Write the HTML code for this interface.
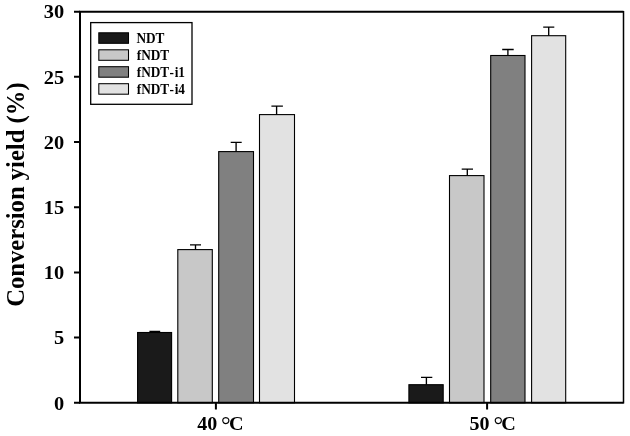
<!DOCTYPE html>
<html><head><meta charset="utf-8">
<style>
html,body{margin:0;padding:0;background:#fff;}
body{width:630px;height:436px;overflow:hidden;}
svg{display:block;will-change:transform;}
text{font-family:"Liberation Serif",serif;font-weight:bold;fill:#000;}
</style></head>
<body>
<svg width="630" height="436" viewBox="0 0 630 436">
<rect x="0" y="0" width="630" height="436" fill="#fff"/>
<!-- bars group 1 -->
<g stroke="#000" stroke-width="1.1">
<rect x="137.6" y="332.5" width="34" height="70.3" fill="#1a1a1a"/>
<rect x="177.8" y="249.6" width="34.5" height="153.2" fill="#c8c8c8"/>
<rect x="218.7" y="151.6" width="34.8" height="251.2" fill="#808080"/>
<rect x="259.5" y="114.6" width="35" height="288.2" fill="#e2e2e2"/>
<rect x="408.9" y="384.7" width="34.3" height="18.1" fill="#1a1a1a"/>
<rect x="449.5" y="175.6" width="34.5" height="227.2" fill="#c8c8c8"/>
<rect x="490.7" y="55.5" width="34.3" height="347.3" fill="#808080"/>
<rect x="531.6" y="35.7" width="34.1" height="367.1" fill="#e2e2e2"/>
</g>
<!-- error bars -->
<g stroke="#000" stroke-width="1.35" fill="none">
<path d="M154.6 332.5V331.5M149.4 331.5H160.2"/>
<path d="M195.5 249.6V244.85M190 244.85H201"/>
<path d="M236.1 151.6V142.4M230.7 142.4H241.7"/>
<path d="M276.6 114.6V106.1M271.4 106.1H282.9"/>
<path d="M426.4 384.7V377.4M421 377.4H432.3"/>
<path d="M467.3 175.6V169.1M461.7 169.1H473"/>
<path d="M507.9 55.5V49.5M502.2 49.5H513.7"/>
<path d="M548.7 35.7V27.1M543.2 27.1H554.3"/>
</g>
<!-- frame -->
<g stroke="#000" stroke-width="2" fill="none">
<path d="M80 10.7V403.8M79 11.7H623.5M79 402.8H623.5"/>
<path d="M623.5 11V403.5" stroke-width="1.5"/>
<path d="M74 11.7H80M74 76.8H80M74 142H80M74 207.2H80M74 272.4H80M74 337.6H80M74 402.8H80"/>
<path d="M215.9 402.8V409.6M487.1 402.8V409.6"/>
</g>
<!-- y labels -->
<g font-size="20" text-anchor="end">
<text transform="translate(64.1 18.4) scale(1.02 0.95)">30</text>
<text transform="translate(64.1 83.6) scale(1.02 0.95)">25</text>
<text transform="translate(64.1 148.8) scale(1.02 0.95)">20</text>
<text transform="translate(64.1 214.0) scale(1.02 0.95)">15</text>
<text transform="translate(64.1 279.2) scale(1.02 0.95)">10</text>
<text transform="translate(64.1 344.2) scale(1.02 0.95)">5</text>
<text transform="translate(64.1 409.6) scale(1.02 0.95)">0</text>
</g>
<!-- x labels -->
<g font-size="20">
<text transform="translate(197.3 430) scale(1 0.95)">40</text>
<text transform="translate(221 432.9)" font-size="24" style="font-weight:normal">°</text>
<text transform="translate(229.1 430) scale(1.01 0.95)">C</text>
<text transform="translate(469.4 430) scale(1 0.95)">50</text>
<text transform="translate(493.6 432.9)" font-size="24" style="font-weight:normal">°</text>
<text transform="translate(501.2 430) scale(1.01 0.95)">C</text>
</g>
<!-- y title -->
<text font-size="24.65" text-anchor="middle" transform="translate(24.1 194.6) rotate(-90) scale(1 1.04)">Conversion yield (%)</text>
<!-- legend -->
<rect x="90.7" y="22.6" width="101.3" height="81.7" fill="#fff" stroke="#000" stroke-width="1.3"/>
<g stroke="#000" stroke-width="1.05">
<rect x="98.8" y="32.8" width="29.7" height="10.5" fill="#1a1a1a"/>
<rect x="98.8" y="49.8" width="29.7" height="10.5" fill="#c8c8c8"/>
<rect x="98.8" y="66.7" width="29.7" height="10.5" fill="#808080"/>
<rect x="98.8" y="83.7" width="29.7" height="10.5" fill="#e2e2e2"/>
</g>
<g font-size="13.3">
<text transform="translate(136.4 43) scale(1 1.15)">NDT</text>
<text transform="translate(136.7 60) scale(1 1.15)">fNDT</text>
<text transform="translate(136.7 77) scale(1 1.15)">fNDT<tspan dx="0.2">-</tspan><tspan dx="0.8">i1</tspan></text>
<text transform="translate(136.7 94) scale(1 1.15)">fNDT<tspan dx="0.2">-</tspan><tspan dx="0.8">i4</tspan></text>
</g>
</svg>
</body></html>
